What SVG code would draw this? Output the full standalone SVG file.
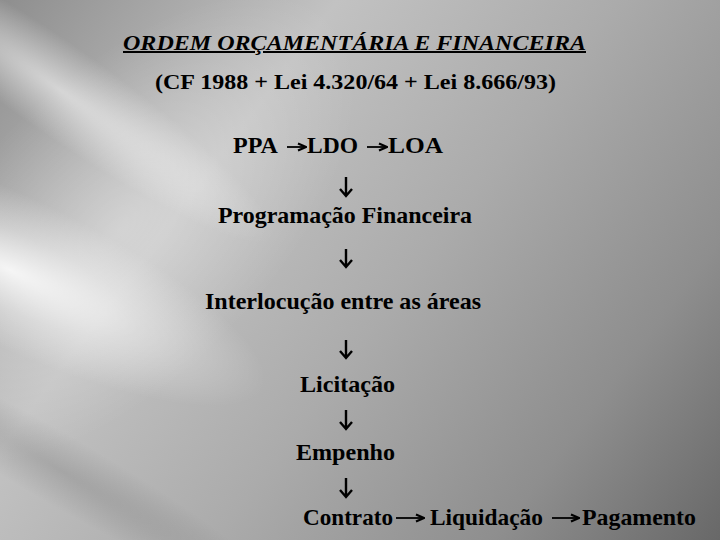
<svg xmlns="http://www.w3.org/2000/svg" width="720" height="540" viewBox="0 0 720 540">
<defs>
<linearGradient id="bg" x1="0" y1="0" x2="720" y2="540" gradientUnits="userSpaceOnUse">
<stop offset="0" stop-color="#8e8e8e"/>
<stop offset="0.3" stop-color="#c2c2c2"/>
<stop offset="0.55" stop-color="#ababab"/>
<stop offset="0.8" stop-color="#8e8e8e"/>
<stop offset="1" stop-color="#686868"/>
</linearGradient>
<radialGradient id="glow" cx="0" cy="0" r="1" gradientUnits="userSpaceOnUse" gradientTransform="translate(10 270) rotate(25) scale(280 75)">
<stop offset="0" stop-color="#ffffff" stop-opacity="0.85"/>
<stop offset="0.5" stop-color="#ffffff" stop-opacity="0.35"/>
<stop offset="1" stop-color="#ffffff" stop-opacity="0"/>
</radialGradient>
<radialGradient id="glow2" cx="0" cy="0" r="1" gradientUnits="userSpaceOnUse" gradientTransform="translate(60 90) rotate(35) scale(260 45)">
<stop offset="0" stop-color="#ffffff" stop-opacity="0.55"/>
<stop offset="1" stop-color="#ffffff" stop-opacity="0"/>
</radialGradient>
<radialGradient id="glow3" cx="0" cy="0" r="1" gradientUnits="userSpaceOnUse" gradientTransform="translate(120 230) rotate(-45) scale(300 150)">
<stop offset="0" stop-color="#ffffff" stop-opacity="0.35"/>
<stop offset="1" stop-color="#ffffff" stop-opacity="0"/>
</radialGradient>
<radialGradient id="dark" cx="0" cy="0" r="1" gradientUnits="userSpaceOnUse" gradientTransform="translate(60 470) rotate(30) scale(260 35)">
<stop offset="0" stop-color="#000" stop-opacity="0.12"/>
<stop offset="1" stop-color="#000" stop-opacity="0"/>
</radialGradient>
<marker id="ah" viewBox="0 0 10 10" refX="9" refY="5" markerWidth="10" markerHeight="10" markerUnits="userSpaceOnUse" orient="auto">
<path d="M1,1.5 L9,5 L1,8.5" fill="none" stroke="#000" stroke-width="2.2"/>
</marker>
</defs>
<style>
text{font-family:"Liberation Serif","Times New Roman",serif;font-weight:bold;font-size:23px;fill:#000}
.t{font-style:italic;text-decoration:underline;font-size:20px}
.s{font-size:22px}
.v{fill:none;stroke:#000;stroke-width:2.4}
.h{fill:none;stroke:#000;stroke-width:1.8;marker-end:url(#ah)}
</style>
<g id="background">
<rect width="720" height="540" fill="url(#bg)"/>
<rect width="720" height="540" fill="url(#glow3)"/>
<rect width="720" height="540" fill="url(#glow)"/>
<rect width="720" height="540" fill="url(#glow2)"/>
<rect width="720" height="540" fill="url(#dark)"/>
</g>
<g id="title"><text class="t" x="123" y="50" textLength="463" lengthAdjust="spacingAndGlyphs">ORDEM ORÇAMENTÁRIA E FINANCEIRA</text></g>
<g id="subtitle"><text class="s" x="155" y="89" textLength="401" lengthAdjust="spacingAndGlyphs">(CF 1988 + Lei 4.320/64 + Lei 8.666/93)</text></g>
<g id="ppa"><text x="233" y="153" textLength="45" lengthAdjust="spacingAndGlyphs">PPA</text></g>
<g id="ldo"><text x="307" y="153" textLength="51" lengthAdjust="spacingAndGlyphs">LDO</text></g>
<g id="loa"><text x="388" y="153" textLength="55" lengthAdjust="spacingAndGlyphs">LOA</text></g>
<g id="prog"><text x="218" y="223" textLength="254" lengthAdjust="spacingAndGlyphs">Programação Financeira</text></g>
<g id="inter"><text x="205" y="309" textLength="276" lengthAdjust="spacingAndGlyphs">Interlocução entre as áreas</text></g>
<g id="lic"><text x="300" y="392" textLength="95" lengthAdjust="spacingAndGlyphs">Licitação</text></g>
<g id="emp"><text x="296" y="460" textLength="99" lengthAdjust="spacingAndGlyphs">Empenho</text></g>
<g id="contrato"><text x="303" y="525" textLength="90" lengthAdjust="spacingAndGlyphs">Contrato</text></g>
<g id="liquidacao"><text x="430" y="525" textLength="113" lengthAdjust="spacingAndGlyphs">Liquidação</text></g>
<g id="pagamento"><text x="582" y="525" textLength="114" lengthAdjust="spacingAndGlyphs">Pagamento</text></g>
<g id="connectors">
<path class="h" d="M287,147 H306"/>
<path class="h" d="M367,147 H387"/>
<path class="h" d="M396,518 H424"/>
<path class="h" d="M552,518 H579"/>
<path class="v" d="M346,177 V196 M340,189 L346,196 L352,189"/>
<path class="v" d="M346,249 V267 M340,260 L346,267 L352,260"/>
<path class="v" d="M346,340 V358 M340,351 L346,358 L352,351"/>
<path class="v" d="M346,410 V429 M340,422 L346,429 L352,422"/>
<path class="v" d="M346,478 V497 M340,490 L346,497 L352,490"/>
</g>
</svg>
